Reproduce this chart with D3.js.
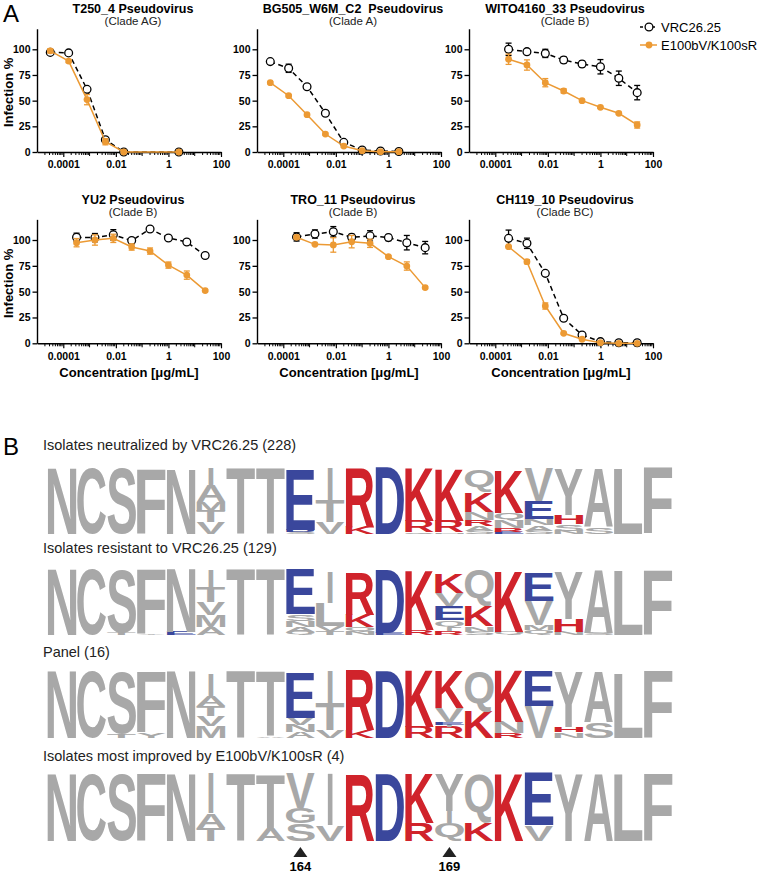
<!DOCTYPE html>
<html><head><meta charset="utf-8">
<script src="https://cdn.jsdelivr.net/npm/d3@7"></script>
<style>body{margin:0;background:#fff} svg{display:block} text{white-space:pre}</style>
</head><body><svg id="c" width="762" height="873"></svg>
<script>
// ================= DATA =================
// Panel A: concentrations (µg/mL), ascending
const concTop2_5 = [0.000032, 0.00016, 0.0008, 0.004, 0.02, 0.1, 0.5, 2.5];
const concTop25  = [0.00032, 0.0016, 0.008, 0.04, 0.2, 1, 5, 25];
const xTickValues = [1e-4, 1e-2, 1, 100];
const xTickLabels = ["0.0001", "0.01", "1", "100"];
const yTickValues = [0, 25, 50, 75, 100];
const seriesNames = ["VRC26.25", "E100bV/K100sR"];

const chartTitles = ["T250_4 Pseudovirus", "BG505_W6M_C2  Pseudovirus", "WITO4160_33 Pseudovirus",
                     "YU2 Pseudovirus", "TRO_11 Pseudovirus", "CH119_10 Pseudovirus"];
const chartClades = ["(Clade AG)", "(Clade A)", "(Clade B)", "(Clade B)", "(Clade B)", "(Clade BC)"];

// VRC26.25 (open circles) and E100bV/K100sR (orange) infection %
const t250Vrc    = [97, 96.5, 61, 12, 0, null, null, 0];
const t250VrcErr = [1.5, 1.5, 2, 2, 0.5, null, null, 0.5];
const t250Mut    = [98.5, 88.5, 51, 10, 0, null, null, 0];
const t250MutErr = [2, 1.5, 5, 3, 0.5, null, null, 0.5];

const bg505Vrc    = [88, 81.5, 63.6, 37.7, 9.4, 2, 1, 0.5];
const bg505VrcErr = [2, 4, 1, 1.5, 1, 0.5, 0.5, 0.5];
const bg505Mut    = [67.5, 54.8, 36.3, 17.5, 5.8, 1.3, 0.3, 0.3];
const bg505MutErr = [1, 1, 1, 1, 1, 0.5, 0.3, 0.3];

const witoVrc    = [100, 97.7, 96, 89.6, 85.7, 83, 71.8, 57.8];
const witoVrcErr = [6, 2, 4, 3, 3, 7, 7, 7];
const witoMut    = [90.3, 84.7, 67.5, 59.4, 50, 43.5, 37.7, 26.3];
const witoMutErr = [5, 5, 4, 2, 1, 1, 1, 3];

const yu2Vrc    = [102.6, 102.3, 105, 99.4, 110.6, 102, 98, 85];
const yu2VrcErr = [4, 4, 5, 3, 1, 1, 2, 1];
const yu2Mut    = [97.4, 100, 101.6, 93.2, 89.3, 75.7, 66, 51];
const yu2MutErr = [4, 5, 4, 3, 3, 3, 4, 1];

const troVrc    = [103, 105.8, 108, 102.6, 104, 102.3, 97.4, 92.6];
const troVrcErr = [4, 4, 5, 3, 5, 3, 7, 6];
const troMut    = [102.6, 95.8, 95.2, 98.4, 96.8, 83.9, 74.8, 53.9];
const troMutErr = [2, 1, 7, 6, 4, 1, 4, 1];

const ch119Vrc    = [101.6, 96.8, 67.7, 24.2, 8.1, 1.6, 0.6, 0.6];
const ch119VrcErr = [8, 5, 1, 1, 1, 0.5, 0.5, 0.5];
const ch119Mut    = [93.5, 79, 36.1, 9.7, 3.9, 0.6, 0, 0];
const ch119MutErr = [1, 2, 3, 1, 1, 0.3, 0.3, 0.3];

// Panel B: sequence logos, each column listed top -> bottom as [residue, bits]
const logoTitles = ["Isolates neutralized by VRC26.25 (228)", "Isolates resistant to VRC26.25 (129)",
                    "Panel (16)", "Isolates most improved by E100bV/K100sR (4)"];
const logoNeutralized = [
  [["N",4.2]],[["C",4.2]],[["S",4.15]],[["F",4.15]],[["N",4.1]],
  [["I",1.05],["A",1.05],["M",0.6],["T",0.7],["V",0.75]],
  [["T",4.2]],[["T",4.2]],
  [["E",3.85],["D",0.15],["S",0.12]],
  [["I",2.03],["T",1.4],["V",0.76]],
  [["R",3.75],["K",0.45]],
  [["D",4.2]],
  [["K",3.4],["R",0.7],["Q",0.1]],
  [["K",3.3],["R",0.75],["N",0.1]],
  [["Q",1.4],["K",1.25],["N",0.5],["R",0.4],["A",0.3],["S",0.2]],
  [["K",2.75],["Q",0.5],["N",0.45],["R",0.25],["E",0.15]],
  [["V",2.1],["E",1.15],["N",0.4],["A",0.35],["S",0.2]],
  [["Y",2.9],["H",0.55],["S",0.45],["N",0.2]],
  [["A",3.75],["S",0.45]],
  [["L",4.15]],[["F",4.2]]
];
const logoResistant = [
  [["N",4.2]],[["C",4.2]],[["S",4.0],["T",0.15]],[["F",4.1],["Y",0.1]],[["N",4.0],["E",0.2]],
  [["I",1.08],["T",0.95],["V",0.83],["M",0.76],["A",0.5]],
  [["T",4.2]],[["T",4.2]],
  [["E",2.8],["S",0.45],["N",0.4],["A",0.3],["Q",0.2]],
  [["I",2.0],["L",1.45],["V",0.35],["T",0.25]],
  [["R",2.7],["K",0.8],["Q",0.3],["N",0.2]],
  [["D",4.0],["E",0.15]],
  [["K",3.8],["R",0.3]],
  [["K",1.2],["V",0.8],["E",0.9],["Q",0.45],["I",0.25],["R",0.25]],
  [["Q",2.35],["K",1.3],["N",0.35],["S",0.2]],
  [["K",3.9],["Q",0.2]],
  [["E",1.8],["V",1.5],["M",0.35],["Q",0.3]],
  [["Y",3.0],["H",0.8],["N",0.2]],
  [["A",4.0],["S",0.15]],
  [["L",4.1]],[["F",4.15]]
];
const logoPanel = [
  [["N",4.25]],[["C",4.25]],[["S",3.95],["T",0.25]],[["F",3.85],["Y",0.35]],[["N",4.25]],
  [["I",1.4],["A",0.64],["T",0.64],["V",0.64],["M",0.76]],
  [["T",4.25]],[["T",4.15],["A",0.1]],
  [["E",2.86],["V",0.45],["N",0.45],["A",0.4]],
  [["I",2.03],["T",1.7],["V",0.5]],
  [["R",3.8],["K",0.5]],
  [["D",4.25]],
  [["K",3.62],["R",0.7]],
  [["K",2.35],["V",0.9],["E",0.15],["I",0.15],["R",0.7]],
  [["Q",2.5],["K",1.7]],
  [["K",3.3],["N",0.7],["R",0.3]],
  [["E",2.2],["V",2.05]],
  [["Y",3.5],["H",0.35],["N",0.35]],
  [["A",3.2],["S",1.0]],
  [["L",4.1]],[["F",4.25]]
];
const logoImproved = [
  [["N",4.25]],[["C",4.25]],[["S",4.25]],[["F",4.25]],[["N",4.25]],
  [["I",2.54],["A",0.9],["T",0.85]],
  [["T",4.25]],[["T",3.4],["A",0.85]],
  [["V",2.2],["G",1.0],["S",1.1]],
  [["I",3.3],["V",1.0]],
  [["R",4.25]],[["D",4.25]],
  [["K",3.15],["R",1.15]],
  [["Y",2.35],["I",0.75],["Q",1.15]],
  [["Q",3.1],["K",1.15]],
  [["K",4.25]],
  [["E",3.3],["V",1.0]],
  [["Y",4.25]],[["A",4.25]],[["L",4.25]],[["F",4.25]]
];
const positionMarkers = [{label: "164", col: 8}, {label: "169", col: 13}];

// ================= DRAWING =================
const FONT = "'Liberation Sans', Arial, Helvetica, sans-serif";
const svg = d3.select("#c").style("font-family", FONT);
const ORANGE = "#ec9a34";

const charts = [
  {conc: concTop2_5, vrc: t250Vrc, vrcErr: t250VrcErr, mut: t250Mut, mutErr: t250MutErr},
  {conc: concTop2_5, vrc: bg505Vrc, vrcErr: bg505VrcErr, mut: bg505Mut, mutErr: bg505MutErr},
  {conc: concTop25, vrc: witoVrc, vrcErr: witoVrcErr, mut: witoMut, mutErr: witoMutErr},
  {conc: concTop25, vrc: yu2Vrc, vrcErr: yu2VrcErr, mut: yu2Mut, mutErr: yu2MutErr},
  {conc: concTop25, vrc: troVrc, vrcErr: troVrcErr, mut: troMut, mutErr: troMutErr},
  {conc: concTop25, vrc: ch119Vrc, vrcErr: ch119VrcErr, mut: ch119Mut, mutErr: ch119MutErr}
];
const rowZero = [152, 343.3], rowPx = [1.027, 1.033];
const colX0 = [37, 257, 469];
const plotW = 184;

svg.append("text").attr("x", 3).attr("y", 22).attr("font-size", 24).text("A");

charts.forEach((c, i) => {
  const r = Math.floor(i / 3), k = i % 3;
  const x0 = colX0[k], zero = rowZero[r];
  const x = d3.scaleLog().domain([1e-5, 100]).range([x0, x0 + plotW]);
  const y = d3.scaleLinear().domain([0, 120]).range([zero, zero - rowPx[r] * 120]);
  const g = svg.append("g");

  // titles
  const cx = x0 + plotW / 2 + 4;
  g.append("text").attr("x", cx).attr("y", zero - 139.5)
    .attr("text-anchor", "middle").attr("font-weight", "bold").attr("font-size", 12.5)
    .text(chartTitles[i]);
  g.append("text").attr("x", cx).attr("y", zero - 127.5)
    .attr("text-anchor", "middle").attr("font-size", 11.5).attr("fill", "#222")
    .text(chartClades[i]);

  // y axis
  const ya = g.append("g").attr("transform", `translate(${x0},0)`)
    .call(d3.axisLeft(y).tickValues(yTickValues).tickSize(4.5).tickSizeOuter(0).tickPadding(2));
  ya.select(".domain").attr("stroke-width", 1.4);
  ya.selectAll(".tick line").attr("stroke-width", 1.3);
  ya.selectAll("text").attr("font-size", 10.5).attr("font-weight", "bold").attr("font-family", FONT);

  // x axis
  const xa = g.append("g").attr("transform", `translate(0,${zero})`)
    .call(d3.axisBottom(x).tickValues(xTickValues).tickFormat((d, j) => xTickLabels[j])
      .tickSize(5).tickSizeOuter(0).tickPadding(4));
  xa.select(".domain").attr("stroke-width", 1.4);
  xa.selectAll(".tick line").attr("stroke-width", 1.2);
  xa.selectAll("text").attr("font-size", 10.5).attr("font-weight", "bold").attr("font-family", FONT);
  const minor = [];
  for (let e = -5; e <= 1; e++) for (let m = 1; m <= 9; m++) {
    const v = m * Math.pow(10, e);
    if (!xTickValues.some(t => Math.abs(t - v) / v < 1e-6) && v > 1e-5) minor.push({v, m});
  }
  xa.selectAll(".minor").data(minor).join("line").attr("class", "minor")
    .attr("x1", d => x(d.v)).attr("x2", d => x(d.v))
    .attr("y1", 0).attr("y2", d => d.m === 1 ? 4 : 3).attr("stroke", "#000").attr("stroke-width", 1);

  // axis labels
  if (k === 0) {
    g.append("text").attr("transform", `translate(13,${(y(0) + y(120)) / 2 + 2}) rotate(-90)`)
      .attr("text-anchor", "middle").attr("font-weight", "bold").attr("font-size", 13).text("Infection %");
  }
  if (r === 1) {
    g.append("text").attr("x", cx - 4).attr("y", zero + 34).attr("text-anchor", "middle")
      .attr("font-weight", "bold").attr("font-size", 13).text("Concentration [\u03bcg/mL]");
  }

  const pts = (vals, errs) => c.conc.map((cc, j) => ({c: cc, v: vals[j], e: errs[j]})).filter(d => d.v !== null);
  const drawSeries = (data, color, dashed, open) => {
    g.append("path").datum(data)
      .attr("d", d3.line().x(d => x(d.c)).y(d => y(d.v)))
      .attr("fill", "none").attr("stroke", color).attr("stroke-width", 1.5)
      .attr("stroke-dasharray", dashed ? "5,3.5" : null);
    const eb = g.append("g").selectAll("g").data(data.filter(d => d.e >= 1)).join("g")
      .attr("stroke", color).attr("stroke-width", 1.3);
    eb.append("line").attr("x1", d => x(d.c)).attr("x2", d => x(d.c))
      .attr("y1", d => y(d.v - d.e)).attr("y2", d => y(d.v + d.e));
    eb.append("line").attr("x1", d => x(d.c) - 3).attr("x2", d => x(d.c) + 3)
      .attr("y1", d => y(d.v + d.e)).attr("y2", d => y(d.v + d.e));
    eb.append("line").attr("x1", d => x(d.c) - 3).attr("x2", d => x(d.c) + 3)
      .attr("y1", d => y(d.v - d.e)).attr("y2", d => y(d.v - d.e));
    g.append("g").selectAll("circle").data(data).join("circle")
      .attr("cx", d => x(d.c)).attr("cy", d => y(d.v))
      .attr("r", open ? 3.9 : 3.4)
      .attr("fill", open ? "#fff" : color).attr("stroke", open ? "#000" : "none").attr("stroke-width", 1.3);
  };
  drawSeries(pts(c.vrc, c.vrcErr), "#000", true, true);
  drawSeries(pts(c.mut, c.mutErr), ORANGE, false, false);
});

// legend
const leg = svg.append("g");
seriesNames.forEach((name, i) => {
  const ly = 27 + i * 18;
  leg.append("line").attr("x1", 640).attr("x2", 657).attr("y1", ly).attr("y2", ly)
    .attr("stroke", i ? ORANGE : "#000").attr("stroke-width", 1.5).attr("stroke-dasharray", i ? null : "3,3");
  leg.append("circle").attr("cx", 649).attr("cy", ly).attr("r", i ? 3.4 : 3.9)
    .attr("fill", i ? ORANGE : "#fff").attr("stroke", i ? "none" : "#000").attr("stroke-width", 1.3);
  leg.append("text").attr("x", 661).attr("y", ly + 4.5).attr("font-size", 13).text(name);
});

// ================= PANEL B =================
svg.append("text").attr("x", 3).attr("y", 455).attr("font-size", 24).text("B");

const cv = document.createElement("canvas").getContext("2d");
cv.font = "bold 100px 'Liberation Sans'";
const metricCache = {};
function metric(ch) {
  if (!metricCache[ch]) {
    const m = cv.measureText(ch);
    metricCache[ch] = {l: m.actualBoundingBoxLeft, r: m.actualBoundingBoxRight,
                       a: m.actualBoundingBoxAscent, d: m.actualBoundingBoxDescent};
  }
  return metricCache[ch];
}
const colorOf = ch => "KRH".includes(ch) ? "#d0232b" : "DE".includes(ch) ? "#3a479c" : "#a8a8a8";

const logos = [logoNeutralized, logoResistant, logoPanel, logoImproved];
const logoBase = [534, 635, 738, 841];
const logoTitleY = [450, 553, 657, 761];
const logoH = 68;
const xs = d3.scaleBand().domain(d3.range(21)).range([47, 673]).paddingInner(0);

function drawLetter(g, ch, bx, bw, yt, yb) {
  if (yb - yt < 0.3) return;
  const m = metric(ch);
  let w = bw - 1, left = bx + 0.5;
  if (ch === "I") { w = bw * 0.17; left = bx + (bw - w) / 2; }
  const sx = w / (m.l + m.r), sy = (yb - yt) / (m.a + m.d);
  g.append("text").attr("transform", `translate(${left},${yt}) scale(${sx},${sy})`)
    .attr("x", m.l).attr("y", m.a).attr("font-size", 100).attr("font-weight", "bold")
    .attr("font-family", "'Liberation Sans'").attr("fill", colorOf(ch)).text(ch);
}

logos.forEach((cols, i) => {
  const g = svg.append("g");
  g.append("text").attr("x", 43).attr("y", logoTitleY[i]).attr("font-size", 14.5).attr("fill", "#222")
    .text(logoTitles[i]);
  const base = logoBase[i];
  const y = d3.scaleLinear().domain([0, 4.32]).range([base, base - logoH]);
  cols.forEach((stack, c) => {
    let acc = 0;
    for (let j = stack.length - 1; j >= 0; j--) {
      const [ch, h] = stack[j];
      drawLetter(g, ch, xs(c), xs.bandwidth(), y(acc + h), y(acc));
      acc += h;
    }
  });
});

// position markers
const mk = svg.append("g");
positionMarkers.forEach(p => {
  const cx = xs(p.col) + xs.bandwidth() / 2;
  mk.append("path").attr("d", `M${cx - 7},857 L${cx + 7},857 L${cx},847 Z`).attr("fill", "#222");
  mk.append("text").attr("x", cx).attr("y", 871).attr("text-anchor", "middle")
    .attr("font-weight", "bold").attr("font-size", 13).text(p.label);
});
</script>
</body></html>
